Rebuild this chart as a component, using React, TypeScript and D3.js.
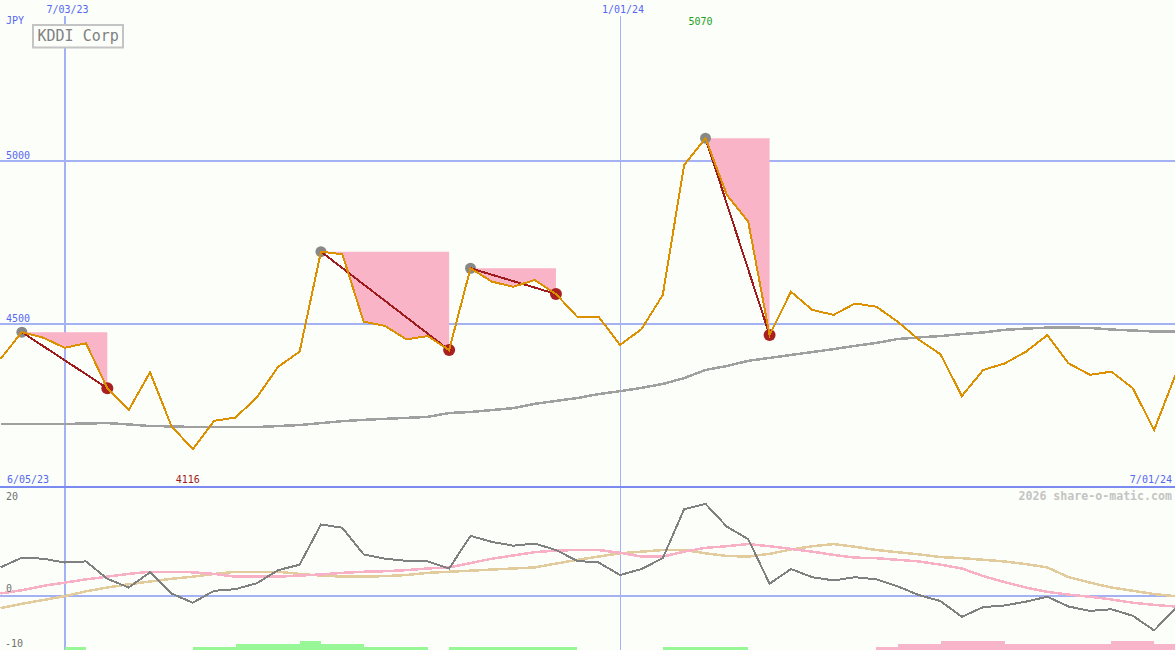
import React, { useEffect } from "react";
import * as d3 from "d3";

const W = 1175;
const H = 650;

// weekly dates (Mondays) 12 Jun 2023 .. 1 Jul 2024
const dates: Date[] = d3.timeMonday.range(new Date(2023, 5, 12), new Date(2024, 6, 2));

const closePrices = [
  4393, 4475, 4458, 4427, 4441, 4303, 4236, 4352, 4187, 4116,
  4203, 4213, 4275, 4369, 4415, 4722, 4714, 4507, 4494, 4453,
  4463, 4420, 4671, 4630, 4614, 4635, 4592, 4522, 4522, 4436,
  4484, 4589, 4988, 5070, 4896, 4814, 4466, 4599, 4543, 4528,
  4563, 4553, 4507, 4451, 4407, 4279, 4359, 4379, 4415, 4466,
  4379, 4344, 4354, 4303, 4175, 4344,
];

const longAverage = [
  4193, 4193, 4193, 4193, 4195, 4196, 4192, 4187, 4186, 4184,
  4184, 4184, 4184, 4187, 4190, 4196, 4202, 4206, 4209, 4212,
  4215, 4227, 4230, 4236, 4242, 4255, 4264, 4273, 4285, 4294,
  4304, 4316, 4334, 4359, 4371, 4387, 4396, 4405, 4414, 4423,
  4433, 4442, 4454, 4459, 4463, 4469, 4474, 4482, 4486, 4489,
  4489, 4488, 4483, 4480, 4477, 4477,
];

const momentum = [
  5.2, 7.0, 6.8, 6.1, 6.3, 3.1, 1.5, 4.3, 0.4, -1.3,
  0.9, 1.2, 2.3, 4.7, 5.7, 13.1, 12.5, 7.6, 6.8, 6.4,
  6.3, 5.0, 11.0, 9.9, 9.2, 9.6, 8.4, 6.4, 6.1, 3.8,
  4.9, 6.9, 15.9, 16.9, 12.7, 10.4, 2.2, 4.9, 3.4, 2.8,
  3.4, 3.0, 1.7, 0.1, -1.0, -3.9, -2.1, -1.8, -1.1, -0.2,
  -2.0, -2.8, -2.5, -3.7, -6.4, -2.3,
];

const momentumFast = [
  0.4, 1.0, 1.8, 2.4, 3.0, 3.5, 4.0, 4.4, 4.4, 4.3,
  4.0, 3.5, 3.5, 3.5, 3.7, 3.9, 4.2, 4.4, 4.5, 4.7,
  5.0, 5.2, 6.0, 6.8, 7.4, 8.0, 8.3, 8.4, 8.4, 7.9,
  7.2, 7.2, 8.1, 8.8, 9.1, 9.5, 9.1, 8.6, 8.1, 7.5,
  7.0, 6.9, 6.6, 6.3, 5.7, 5.0, 3.6, 2.5, 1.5, 0.7,
  0.2, -0.2, -0.7, -1.3, -1.7, -2.0,
];

const momentumSlow = [
  -2.3, -1.5, -0.8, -0.1, 0.8, 1.5, 2.1, 2.6, 3.1, 3.5,
  4.0, 4.4, 4.4, 4.4, 4.0, 3.7, 3.5, 3.5, 3.6, 3.8,
  4.2, 4.4, 4.6, 4.8, 5.0, 5.2, 5.9, 6.6, 7.2, 7.8,
  8.1, 8.4, 8.4, 7.8, 7.3, 7.2, 7.7, 8.5, 9.1, 9.5,
  9.0, 8.4, 8.0, 7.6, 7.1, 6.9, 6.6, 6.3, 5.8, 5.2,
  3.4, 2.4, 1.5, 0.9, 0.3, -0.1,
];

// weekly strength bars between consecutive weeks
const strengthBars = [
  0, 0, 0, 1, 0, 0, 0, 0, 0, 1,
  1, 2, 2, 2, 3, 2, 2, 1, 1, 1,
  0, 1, 1, 1, 1, 1, 1, 0, 0, 0,
  0, 1, 1, 1, 1, 0, 0, 0, 0, 0,
  0, -1, -2, -2, -3, -3, -3, -2, -2, -2,
  -2, -2, -3, -3, -2,
];

const signalStarts = [1, 15, 22, 33];
const signalEnds = [5, 21, 26, 36];

const priceTicks = [4500, 5000];
const lowerTicks = [20, 0, -10];
const dateLines = [new Date(2023, 6, 3), new Date(2024, 0, 1)];
const dateLabels = ["7/03/23", "1/01/24"];
const dateLineWidths = [2, 1];
const startLabel = "6/05/23";
const endLabel = "7/01/24";
const title = "KDDI Corp";
const currency = "JPY";
const credit = "2026 share-o-matic.com";

const BG = "#fcfefa";
const BLUE_TEXT = "#5468f0";
const GRID = "#a4b2f4";
const SEP = "#7a8af0";
const MONO = "'DejaVu Sans Mono', 'Liberation Mono', monospace";

export default function App() {
  useEffect(() => {
    document.body.style.margin = "0";
  }, []);

  const x = d3.scaleTime().domain([dates[0], dates[dates.length - 1]]).range([0.5, W + 0.5]);
  const y = d3.scaleLinear().domain([4500, 5000]).range([324, 161]);
  const yl = d3.scaleLinear().domain([-10, 20]).range([H, 487]);
  const barH = d3.scaleLinear().domain([0, 3]).range([0, 9.3]);

  const priceLine = d3.line<number>().x((_, i) => x(dates[i])).y((d) => y(d));
  const lowerLine = d3.line<number>().x((_, i) => x(dates[i])).y((d) => yl(d));

  const maxI = d3.maxIndex(closePrices);
  const minI = d3.minIndex(closePrices);

  const areas = signalStarts.map((s, k) => {
    const e = signalEnds[k];
    const idx = d3.range(s, e + 1);
    const a = d3
      .area<number>()
      .x((i) => x(dates[i]))
      .y0(() => y(closePrices[s]))
      .y1((i) => y(closePrices[i]));
    return a(idx) || "";
  });

  return (
    <svg
      width={W}
      height={H}
      style={{ display: "block", position: "absolute", left: 0, top: 0, background: BG }}
    >
      <rect x={0} y={0} width={W} height={H} fill={BG} />

      {/* horizontal grid upper */}
      {priceTicks.map((t) => (
        <line key={t} x1={0} x2={W} y1={y(t)} y2={y(t)} stroke={GRID} strokeWidth={2} shapeRendering="crispEdges" />
      ))}

      {/* vertical date lines */}
      {dateLines.map((d, i) => (
        <line
          key={i}
          x1={Math.round(x(d)) + (dateLineWidths[i] === 1 ? 0.5 : 0)}
          x2={Math.round(x(d)) + (dateLineWidths[i] === 1 ? 0.5 : 0)}
          y1={16}
          y2={H}
          stroke={GRID}
          strokeWidth={dateLineWidths[i]}
          shapeRendering="crispEdges"
        />
      ))}

      {/* lower zero line and separator */}
      <line x1={0} x2={W} y1={yl(0)} y2={yl(0)} stroke={GRID} strokeWidth={2} shapeRendering="crispEdges" />
      <line x1={0} x2={W} y1={487} y2={487} stroke={SEP} strokeWidth={2} shapeRendering="crispEdges" />

      {/* signal shaded areas */}
      {areas.map((p, i) => (
        <path key={i} d={p} fill="#f9b4c8" stroke="none" />
      ))}

      {/* long average */}
      <path d={priceLine(longAverage) || ""} fill="none" stroke="#a0a0a0" strokeWidth={2.5} shapeRendering="crispEdges" />

      {/* signal dots and lines (under the price line) */}
      {signalStarts.map((s, k) => {
        const e = signalEnds[k];
        return (
          <g key={k}>
            <circle cx={x(dates[s])} cy={y(closePrices[s])} r={5.5} fill="#888888" />
            <circle cx={x(dates[e])} cy={y(closePrices[e])} r={6} fill="#a82020" />
            <line
              x1={x(dates[s])}
              y1={y(closePrices[s])}
              x2={x(dates[e])}
              y2={y(closePrices[e])}
              stroke="#a01c1c"
              strokeWidth={2}
              shapeRendering="crispEdges"
            />
          </g>
        );
      })}

      {/* price */}
      <path d={priceLine(closePrices) || ""} fill="none" stroke="#dc9000" strokeWidth={2} shapeRendering="crispEdges" />

      {/* lower panel bars */}
      {strengthBars.map((v, k) =>
        v === 0 ? null : (
          <rect
            key={k}
            x={x(dates[k])}
            width={x(dates[k + 1]) - x(dates[k])}
            y={H - barH(Math.abs(v))}
            height={barH(Math.abs(v))}
            fill={v > 0 ? "#98f898" : "#f8b4c8"}
            shapeRendering="crispEdges"
          />
        )
      )}

      {/* lower panel lines */}
      <path d={lowerLine(momentumSlow) || ""} fill="none" stroke="#e2cc9e" strokeWidth={2.5} shapeRendering="crispEdges" />
      <path d={lowerLine(momentumFast) || ""} fill="none" stroke="#f8b0c6" strokeWidth={2.5} shapeRendering="crispEdges" />
      <path d={lowerLine(momentum) || ""} fill="none" stroke="#808080" strokeWidth={2} shapeRendering="crispEdges" />

      {/* texts */}
      <g fontFamily={MONO} fontSize={10}>
        <text x={6} y={24} fill={BLUE_TEXT}>{currency}</text>
        {priceTicks.map((t) => (
          <text key={t} x={6} y={y(t) - 2} fill={BLUE_TEXT}>{t}</text>
        ))}
        {dateLines.map((d, i) => (
          <text key={i} x={x(d) + 3} y={13} fill={BLUE_TEXT} textAnchor="middle">{dateLabels[i]}</text>
        ))}
        <text x={x(dates[maxI]) - 5} y={24.5} fill="#22a022" textAnchor="middle">{closePrices[maxI]}</text>
        <text x={x(dates[minI]) - 5} y={483} fill="#a01c1c" textAnchor="middle">{closePrices[minI]}</text>
        <text x={7} y={483} fill={BLUE_TEXT}>{startLabel}</text>
        <text x={1172} y={483} fill={BLUE_TEXT} textAnchor="end">{endLabel}</text>
        {lowerTicks.map((t) => (
          <text
            key={t}
            x={t < 0 ? 5 : 6}
            y={t === 20 ? 500 : yl(t) - 3.5}
            fill="#707070"
          >
            {t}
          </text>
        ))}
      </g>
      <text x={1172} y={500} fontFamily={MONO} fontSize={11.6} fontWeight="bold" fill="#c4c4c4" textAnchor="end">
        {credit}
      </text>

      {/* title box */}
      <rect x={33} y={25} width={90} height={22.5} fill={BG} stroke="#c4c4c4" strokeWidth={2} />
      <text x={37.5} y={41.3} fontFamily={MONO} fontSize={15} fill="#808080">{title}</text>
    </svg>
  );
}
